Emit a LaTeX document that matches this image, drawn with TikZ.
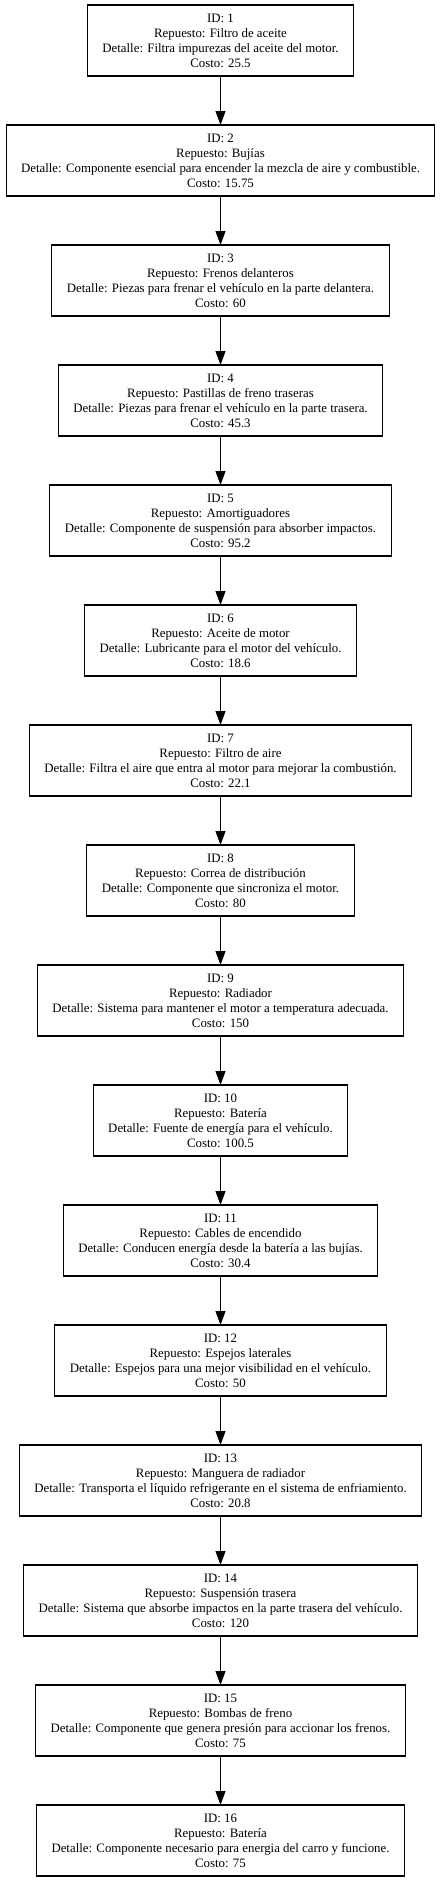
\documentclass[tikz,border=0pt]{standalone}
\usepackage{fontspec}
\setmainfont{Liberation Serif}
\usetikzlibrary{positioning,arrows.meta}

\tikzset{
    repuesto/.style={draw, line width=1.1pt, rectangle, align=center,
        minimum height=71pt, inner xsep=15pt, inner ysep=2pt, outer sep=0pt,
        font=\fontsize{12.85pt}{15pt}\selectfont},
    enlace/.style={line width=1pt, -{Triangle[length=14pt,width=10pt]}}
}

\begin{document}
\begin{tikzpicture}[node distance=49pt]
        % Fix page size
        \useasboundingbox (0,0) rectangle (441pt,-1883pt);
        
        % Nodes
        \node[repuesto] (r1) at (220.5pt,-40.5pt) {ID: 1\\Repuesto: Filtro de aceite\\Detalle: Filtra impurezas del aceite del motor.\\Costo: 25.5};
        \node[repuesto, below=of r1] (r2) {ID: 2\\Repuesto: Bujías\\Detalle: Componente esencial para encender la mezcla de aire y combustible.\\Costo: 15.75};
        \node[repuesto, below=of r2] (r3) {ID: 3\\Repuesto: Frenos delanteros\\Detalle: Piezas para frenar el vehículo en la parte delantera.\\Costo: 60};
        \node[repuesto, below=of r3] (r4) {ID: 4\\Repuesto: Pastillas de freno traseras\\Detalle: Piezas para frenar el vehículo en la parte trasera.\\Costo: 45.3};
        \node[repuesto, below=of r4] (r5) {ID: 5\\Repuesto: Amortiguadores\\Detalle: Componente de suspensión para absorber impactos.\\Costo: 95.2};
        \node[repuesto, below=of r5] (r6) {ID: 6\\Repuesto: Aceite de motor\\Detalle: Lubricante para el motor del vehículo.\\Costo: 18.6};
        \node[repuesto, below=of r6] (r7) {ID: 7\\Repuesto: Filtro de aire\\Detalle: Filtra el aire que entra al motor para mejorar la combustión.\\Costo: 22.1};
        \node[repuesto, below=of r7] (r8) {ID: 8\\Repuesto: Correa de distribución\\Detalle: Componente que sincroniza el motor.\\Costo: 80};
        \node[repuesto, below=of r8] (r9) {ID: 9\\Repuesto: Radiador\\Detalle: Sistema para mantener el motor a temperatura adecuada.\\Costo: 150};
        \node[repuesto, below=of r9] (r10) {ID: 10\\Repuesto: Batería\\Detalle: Fuente de energía para el vehículo.\\Costo: 100.5};
        \node[repuesto, below=of r10] (r11) {ID: 11\\Repuesto: Cables de encendido\\Detalle: Conducen energía desde la batería a las bujías.\\Costo: 30.4};
        \node[repuesto, below=of r11] (r12) {ID: 12\\Repuesto: Espejos laterales\\Detalle: Espejos para una mejor visibilidad en el vehículo.\\Costo: 50};
        \node[repuesto, below=of r12] (r13) {ID: 13\\Repuesto: Manguera de radiador\\Detalle: Transporta el líquido refrigerante en el sistema de enfriamiento.\\Costo: 20.8};
        \node[repuesto, below=of r13] (r14) {ID: 14\\Repuesto: Suspensión trasera\\Detalle: Sistema que absorbe impactos en la parte trasera del vehículo.\\Costo: 120};
        \node[repuesto, below=of r14] (r15) {ID: 15\\Repuesto: Bombas de freno\\Detalle: Componente que genera presión para accionar los frenos.\\Costo: 75};
        \node[repuesto, below=of r15] (r16) {ID: 16\\Repuesto: Batería\\Detalle: Componente necesario para energia del carro y funcione.\\Costo: 75};
        
        % Arrows
        \foreach \a/\b in {1/2,2/3,3/4,4/5,5/6,6/7,7/8,8/9,9/10,10/11,11/12,12/13,13/14,14/15,15/16}
            \draw[enlace] (r\a) -- (r\b);
        
    \end{tikzpicture}
\end{document}
